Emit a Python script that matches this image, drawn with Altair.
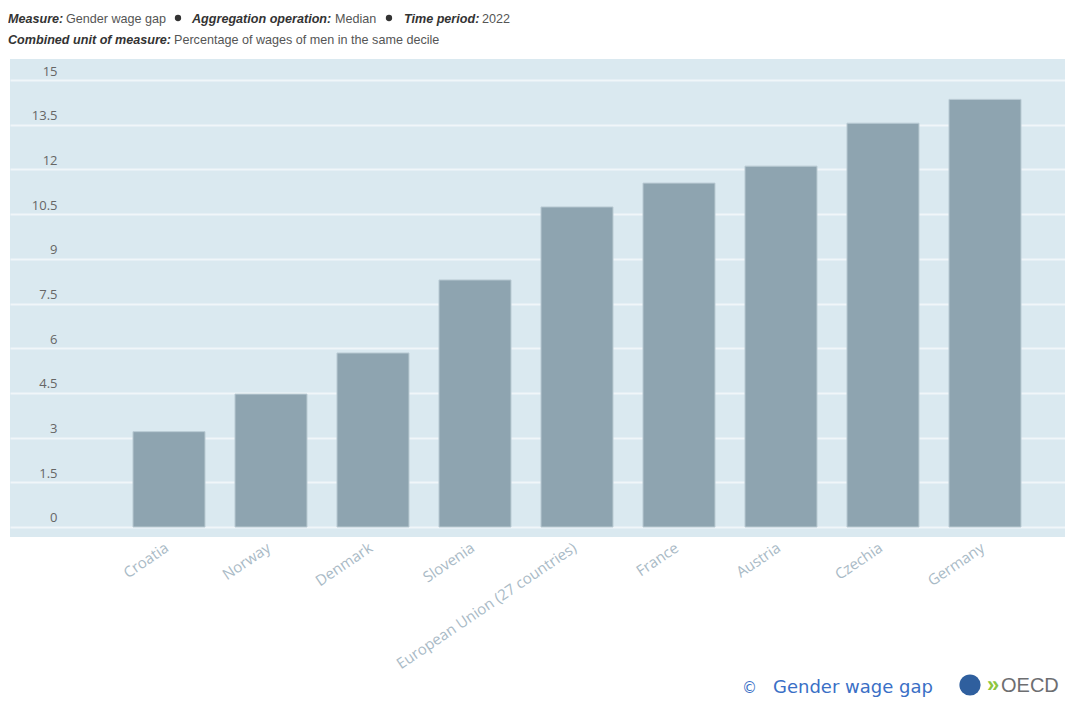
import altair as alt
import pandas as pd

# ---- data ----
countries = ["Croatia", "Norway", "Denmark", "Slovenia",
             "European Union (27 countries)", "France", "Austria",
             "Czechia", "Germany"]
gaps = [3.2, 4.46, 5.84, 8.29, 10.74, 11.54, 12.11, 13.55, 14.35]
y_ticks = [0, 1.5, 3, 4.5, 6, 7.5, 9, 10.5, 12, 13.5, 15]

df = pd.DataFrame({"country": countries, "gap": gaps})

W, H = 1055, 478

bars = alt.Chart(df).mark_bar(color="#8ea4b0", stroke="#b9cad3", strokeWidth=1).encode(
    x=alt.X("country:N", sort=None, title=None,
            scale=alt.Scale(paddingInner=0.2941, paddingOuter=0.8186, align=0.7365),
            axis=alt.Axis(labelAngle=326, labelColor="#a9bac6", labelFont="Open Sans",
                          labelFontSize=15, labelPadding=3, labelOffset=-6, labelLimit=400,
                          domain=False, ticks=False, grid=False)),
    y=alt.Y("gap:Q", title=None,
            scale=alt.Scale(domain=[-0.3356, 15.705], nice=False, zero=False),
            axis=alt.Axis(values=y_ticks, format=".3~g", grid=True, gridColor="#f0f6f9",
                          gridWidth=2, domain=False, ticks=False, tickSize=0,
                          labelAlign="right", labelBaseline="alphabetic",
                          labelPadding=-47, labelOffset=-5, labelColor="#666666",
                          labelFont="Open Sans", labelFontSize=13)),
    y2=alt.datum(0),
)


def note(txt, x, y, size=12.6, weight="normal", style="normal", color="#555555",
         font="Liberation Sans", align="left"):
    return alt.Chart(pd.DataFrame({"t": [txt]})).mark_text(
        align=align, baseline="alphabetic", fontSize=size, fontWeight=weight,
        fontStyle=style, color=color, font=font
    ).encode(text="t:N", x=alt.value(x), y=alt.value(y))


def dot(x, y, size=40, color="#333333"):
    return alt.Chart(pd.DataFrame({"t": [0]})).mark_circle(
        size=size, color=color, opacity=1
    ).encode(x=alt.value(x), y=alt.value(y))


L1, L2 = -36, -15
layers = [
    bars,
    note("Measure:", -2, L1, weight="bold", style="italic", color="#333333"),
    note("Gender wage gap", 56, L1),
    dot(168, -41),
    note("Aggregation operation:", 182, L1, weight="bold", style="italic", color="#333333"),
    note("Median", 325, L1),
    dot(379, -41),
    note("Time period:", 394, L1, weight="bold", style="italic", color="#333333"),
    note("2022", 472, L1),
    note("Combined unit of measure:", -2, L2, weight="bold", style="italic", color="#333333"),
    note("Percentage of wages of men in the same decile", 164, L2),
    # footer
    note("©", 732, 634, size=15, color="#3a6fc6", font="DejaVu Sans"),
    note("Gender wage gap", 763, 634, size=18, color="#3a6fc6", font="DejaVu Sans"),
    dot(960, 626, size=450, color="#2f5f9e"),
    note("»", 977, 633, size=22, weight="bold", color="#8dc63f"),
    note("OECD", 991, 633, size=20, color="#6d6e71"),
]

chart = alt.layer(*layers).properties(
    width=W, height=H,
    padding={"left": 2, "top": 51, "right": 0, "bottom": 161},
    autosize=alt.AutoSizeParams(type="none"),
    background="white",
).configure_view(stroke=None, fill="#dae9f0")

chart.save("out.html", embed_options={"renderer": "svg", "actions": False})
